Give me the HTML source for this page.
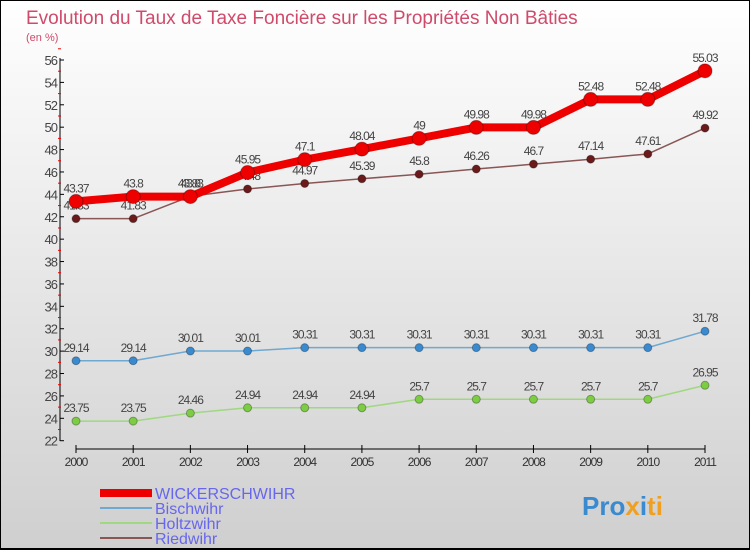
<!DOCTYPE html>
<html><head><meta charset="utf-8"><style>
body{margin:0;width:750px;height:550px;overflow:hidden;font-family:"Liberation Sans",sans-serif}
</style></head><body>
<svg width="750" height="550" xmlns="http://www.w3.org/2000/svg" font-family="Liberation Sans, sans-serif">
<defs><linearGradient id="bg" x1="0" y1="0" x2="0" y2="1"><stop offset="0" stop-color="#ffffff"/><stop offset="1" stop-color="#cfcfcf"/></linearGradient></defs>
<rect x="0.5" y="0.5" width="749" height="549" fill="url(#bg)" stroke="#000" stroke-width="1"/>
<line x1="0" y1="549" x2="750" y2="549" stroke="#000" stroke-width="2"/>
<text x="26" y="24" font-size="19" fill="#d04a6a">Evolution du Taux de Taxe Foncière sur les Propriétés Non Bâties</text>
<text x="26" y="41" font-size="11" fill="#d04a6a">(en %)</text>
<g id="axes"></g><g id="series"></g>
<g>
<rect x="100" y="489" width="52" height="8" fill="#ee0000"/>
<line x1="100" y1="508" x2="152" y2="508" stroke="#6fa8d0" stroke-width="2"/>
<line x1="100" y1="523" x2="152" y2="523" stroke="#9fd880" stroke-width="2"/>
<line x1="100" y1="538" x2="152" y2="538" stroke="#8a5555" stroke-width="2"/>
<g font-size="16" fill="#6666ee">
<text x="155" y="499">WICKERSCHWIHR</text>
<text x="155" y="514">Bischwihr</text>
<text x="155" y="529">Holtzwihr</text>
<text x="155" y="544">Riedwihr</text>
</g></g>
<g font-size="26" font-weight="bold">
<text x="582" y="515"><tspan fill="#3a8ad0">Pro</tspan><tspan fill="#f0a020">x</tspan><tspan fill="#3a8ad0">i</tspan><tspan fill="#f0a020">ti</tspan></text></g>
</svg>
<script>
const years=[2000,2001,2002,2003,2004,2005,2006,2007,2008,2009,2010,2011];
const wick=[43.37,43.8,43.8,45.95,47.1,48.04,49,49.98,49.98,52.48,52.48,55.03];
const bisch=[29.14,29.14,30.01,30.01,30.31,30.31,30.31,30.31,30.31,30.31,30.31,31.78];
const holtz=[23.75,23.75,24.46,24.94,24.94,24.94,25.7,25.7,25.7,25.7,25.7,26.95];
const ried=[41.83,41.83,43.83,44.48,44.97,45.39,45.8,46.26,46.7,47.14,47.61,49.92];
const yTicks=[22,24,26,28,30,32,34,36,38,40,42,44,46,48,50,52,54,56];
const NS='http://www.w3.org/2000/svg';
const x=i=>76+i*(629/11), y=v=>440.7-(v-22)*(380.7/34);
function mk(t,a,p){const e=document.createElementNS(NS,t);for(const k in a)e.setAttribute(k,a[k]);p.appendChild(e);return e;}
const ax=document.getElementById('axes');
let l=mk('line',{x1:60,y1:58,x2:60,y2:441,stroke:'#000'},ax);


l=mk('line',{x1:76,y1:449,x2:705,y2:449,stroke:'#000'},ax);


yTicks.forEach(v=>{mk('line',{x1:60,y1:y(v),x2:64,y2:y(v),stroke:'#000'},ax);
 mk('line',{x1:58,y1:y(v+1),x2:61,y2:y(v+1),stroke:'#e00'},ax);
 const t=mk('text',{x:57,y:y(v)+5,'font-size':13,'text-anchor':'end',fill:'#444','letter-spacing':'-1'},ax);t.textContent=v;
 
 });
years.forEach((yr,i)=>{mk('line',{x1:x(i),y1:445,x2:x(i),y2:453,stroke:'#000'},ax);
 const t=mk('text',{x:x(i),y:466,'font-size':12,'text-anchor':'middle',fill:'#333','letter-spacing':'-1'},ax);t.textContent=yr;
 
 });
const sg=document.getElementById('series');
function draw(name,vals,col,w,r,dot){const g=mk('g',{},sg);
 
 
 mk('polyline',{points:vals.map((v,i)=>x(i)+','+y(v)).join(' '),fill:'none',stroke:col,'stroke-width':w,'stroke-linejoin':'round'},g);
 vals.forEach((v,i)=>{const c=mk('circle',{cx:x(i),cy:y(v),r:r,fill:dot,stroke:'rgba(0,0,0,0.3)'},g);
  
  
  const t=mk('text',{x:x(i),y:y(v)-9,'font-size':12,'text-anchor':'middle',fill:'#444','letter-spacing':'-1'},g);t.textContent=v;});}
draw('holtzwihr',holtz,'#9fd880',1.5,4,'#7ccc44');
draw('bischwihr',bisch,'#6fa8d0',1.5,4,'#3a8ad0');
draw('riedwihr',ried,'#8a5555',1.5,4,'#6a1a1a');
draw('wickerschwihr',wick,'#ee0000',8,7,'#ee0000');
</script>
</body></html>
